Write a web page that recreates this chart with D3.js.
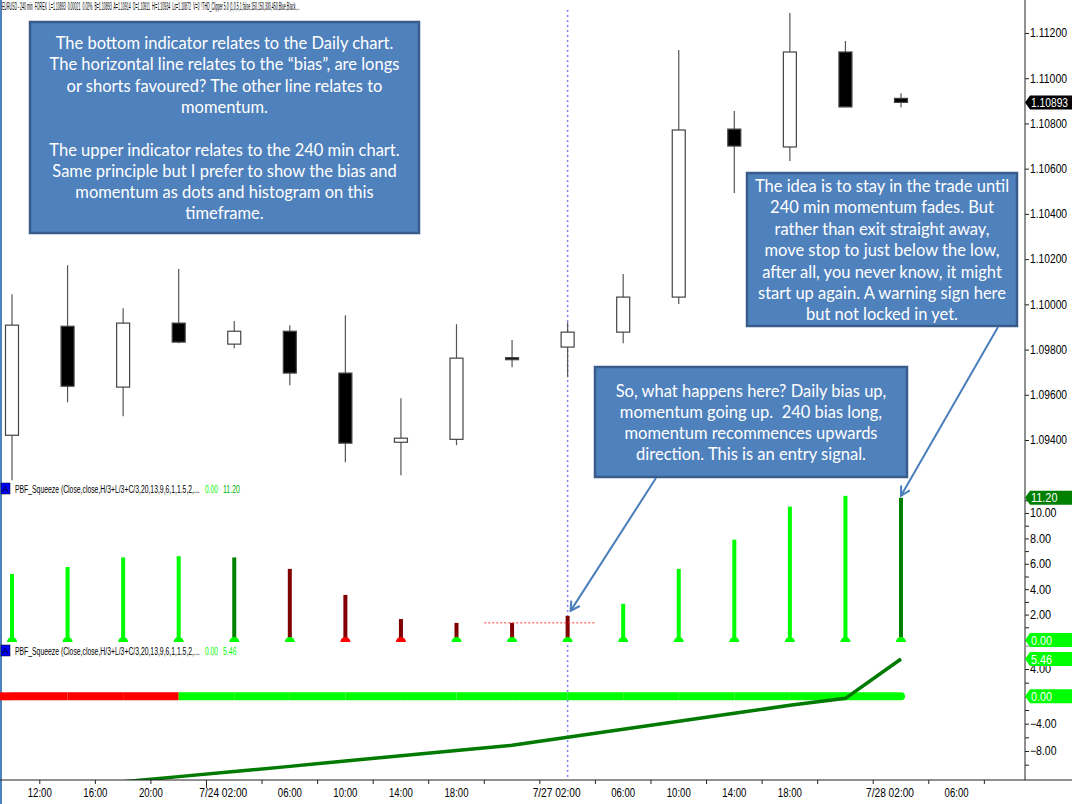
<!DOCTYPE html>
<html>
<head>
<meta charset="utf-8">
<script src="https://cdn.jsdelivr.net/npm/d3@7"></script>
<style>
  body { margin: 0; background: #fff; }
  svg { display: block; }
  .ax text { font-family: "Liberation Sans Narrow", "Arial Narrow", "Liberation Sans", sans-serif; font-size: 12px; fill: #000; }
  .ax line { stroke: #222; }
  .hdr { font-family: "Liberation Sans Narrow", "Arial Narrow", "Liberation Sans", sans-serif; white-space: pre; }
  .note { font-family: Lato, "Open Sans", sans-serif; fill: #fff; white-space: pre; }
</style>
</head>
<body>
<svg id="chart" width="1072" height="804"></svg>
<script>
// 240 min EURUSD bars
const opens  = [1.09421, 1.09903, 1.09634, 1.09917, 1.09824, 1.09881, 1.09696, 1.09390, 1.09403, 1.09764, 1.09811, 1.09877, 1.10032, 1.10775, 1.10696, 1.11116, 1.10911];
const highs  = [1.10045, 1.10173, 1.09983, 1.10156, 1.09926, 1.09908, 1.09952, 1.09585, 1.09912, 1.09842, 1.09921, 1.10134, 1.11125, 1.10855, 1.11289, 1.11165, 1.10934];
const lows   = [1.09222, 1.09567, 1.09505, 1.09828, 1.09806, 1.09642, 1.09302, 1.09244, 1.09377, 1.09722, 1.09678, 1.09828, 1.10001, 1.10492, 1.10634, 1.10873, 1.10872];
const closes = [1.09908, 1.09638, 1.09917, 1.09833, 1.09881, 1.09696, 1.09386, 1.09408, 1.09762, 1.09760, 1.09877, 1.10032, 1.10771, 1.10700, 1.11116, 1.10873, 1.10893];

// upper indicator (240 min squeeze)
const histValues = [5.2, 5.75, 6.5, 6.6, 6.5, 5.6, 3.55, 1.65, 1.35, 1.35, 1.9, 2.85, 5.6, 7.9, 10.5, 11.35, 11.2];
const histState  = ["up", "up", "up", "up", "fade", "down", "down", "down", "down", "down", "down", "up", "up", "up", "up", "up", "fade"];
const dotState   = ["long", "long", "long", "long", "long", "long", "short", "short", "long", "long", "long", "long", "long", "long", "long", "long", "long"];

// lower indicator (daily squeeze)
const dailyBias     = ["short", "short", "short", "short", "long", "long", "long", "long", "long", "long", "long", "long", "long", "long", "long", "long", "long"];
const dailyMomentum = [-14.0, -13.25, -12.5, -11.75, -11.0, -10.25, -9.45, -8.7, -7.93, -7.17, -6.0, -4.83, -3.66, -2.49, -1.32, -0.29, 5.46];

// time axis (positions in bar units)
const timeLabels = ["12:00", "16:00", "20:00", "7/24 02:00", "06:00", "10:00", "14:00", "18:00", "7/27 02:00", "06:00", "10:00", "14:00", "18:00", "7/28 02:00", "06:00"];
const timeLabelAt = [0.5, 1.5, 2.5, 4, 5, 6, 7, 8, 10, 11, 12, 13, 14, 16, 17];

const priceTicks = d3.range(1.094, 1.1125, 0.002);
const histTicks = [0, 2, 4, 6, 8, 10];
const histMinor = [1, 3, 5, 7, 9, 11];
const dailyTicks = [-8, -4, 0, 4];
const dailyMinor = [-10, -6, -2, 2];

const headerText = "EURUSD - 240 min  FOREX  L=1.10893  0.00021  0.02%  B=1.10893  A=1.10914  O=1.10911  Hi=1.10934  Lo=1.10872  V=0  !THD_Clipper 5.0 (1,0,5,1,false,150,150,300,450,Blue,Black,...";
const indHeader = "PBF_Squeeze (Close,close,H/3+L/3+C/3,20,13,9,6,1,1.5,2,...";

const note1 = ["The bottom indicator relates to the Daily chart.",
  "The horizontal line relates to the \u201cbias\u201d, are longs",
  "or shorts favoured? The other line relates to",
  "momentum.",
  "",
  "The upper indicator relates to the 240 min chart.",
  "Same principle but I prefer to show the bias and",
  "momentum as dots and histogram on this",
  "timeframe."];
const note2 = ["The idea is to stay in the trade until",
  "240 min momentum fades. But",
  "rather than exit straight away,",
  "move stop to just below the low,",
  "after all, you never know, it might",
  "start up again. A warning sign here",
  "but not locked in yet."];
const note3 = ["So, what happens here? Daily bias up,",
  "momentum going up.  240 bias long,",
  "momentum recommences upwards",
  "direction. This is an entry signal."];

const axisX = 1025, baseY = 780;
const svg = d3.select("#chart");

const x = d3.scaleLinear().domain([0, 16]).range([12, 901]);
const yP = d3.scaleLinear().domain([1.094, 1.112]).range([440, 33]);
const yH = d3.scaleLinear().domain([0, 10]).range([640, 513]);
const yD = d3.scaleLinear().domain([-8, 4]).range([751, 669]);

// squeeze text horizontally to the narrow width the platform font uses
function condense(sel, width) {
  sel.each(function() {
    const node = this;
    const w = node.getComputedTextLength();
    const target = typeof width === "function" ? width(node.textContent) : width;
    if (!w || !target) return;
    const tx = +node.getAttribute("x") || 0;
    const ty = +node.getAttribute("y") || 0;
    d3.select(node).attr("x", 0).attr("y", 0)
      .attr("transform", `translate(${tx},${ty}) scale(${target / w},1)`);
  });
}
const perChar = k => s => s.length * k;

const defs = svg.append("defs");
defs.append("clipPath").attr("id", "cp").append("rect").attr("x", 0).attr("y", 10).attr("width", axisX).attr("height", 473);
defs.append("clipPath").attr("id", "ch").append("rect").attr("x", 0).attr("y", 483).attr("width", axisX).attr("height", 163);
defs.append("clipPath").attr("id", "cd").append("rect").attr("x", 0).attr("y", 647).attr("width", axisX).attr("height", baseY - 647);

// left slide edge
svg.append("line").attr("x1", 1).attr("x2", 1).attr("y1", 0).attr("y2", 804)
  .attr("stroke", "#4f81bd").attr("stroke-width", 2);

// cursor line at 7/27 02:00
svg.append("line")
  .attr("x1", x(10)).attr("x2", x(10)).attr("y1", 10).attr("y2", baseY)
  .attr("stroke", "#8080ff").attr("stroke-width", 1.5).attr("stroke-dasharray", "2,3");

//Candles
const candles = d3.range(opens.length);
const cg = svg.append("g").attr("clip-path", "url(#cp)");
cg.selectAll(".wick").data(candles).enter().append("line")
  .attr("x1", i => x(i)).attr("x2", i => x(i))
  .attr("y1", i => yP(highs[i])).attr("y2", i => yP(lows[i]))
  .attr("stroke", "#555").attr("stroke-width", 1.2);
cg.selectAll(".body").data(candles).enter().append("rect")
  .attr("x", i => x(i) - 6.5).attr("width", 13)
  .attr("y", i => yP(Math.max(opens[i], closes[i])))
  .attr("height", i => Math.max(2, yP(Math.min(opens[i], closes[i])) - yP(Math.max(opens[i], closes[i]))))
  .attr("fill", i => closes[i] > opens[i] ? "#fff" : "#000")
  .attr("stroke", "#444").attr("stroke-width", 1.2);

//Upper indicator
const histColor = {up: "#00ff00", fade: "#008000", down: "#800000"};
const dotColor = {long: "#00ff00", short: "#ff0000"};
const hg = svg.append("g").attr("clip-path", "url(#ch)");
hg.selectAll(".bar").data(histValues).enter().append("rect")
  .attr("x", (d, i) => x(i) - 2).attr("width", 4)
  .attr("y", d => yH(d)).attr("height", d => yH(0) - yH(d))
  .attr("fill", (d, i) => histColor[histState[i]]);
hg.selectAll(".dot").data(dotState).enter().append("path")
  .attr("d", (d, i) => `M${x(i) - 5},${yH(0) + 2} A5,5 0 0 1 ${x(i) + 5},${yH(0) + 2} Z`)
  .attr("fill", d => dotColor[d]);
// dotted level at the entry bar
hg.append("line")
  .attr("x1", x(8.5)).attr("x2", x(10.5))
  .attr("y1", yH(histValues[9])).attr("y2", yH(histValues[9]))
  .attr("stroke", "#ff3030").attr("stroke-dasharray", "2,2");

//Lower indicator
const dg = svg.append("g").attr("clip-path", "url(#cd)");
dg.selectAll(".bias").data(dailyBias).enter().append("line")
  .attr("x1", (d, i) => i === 0 ? 0 : x(i - 1)).attr("x2", (d, i) => x(i))
  .attr("y1", yD(0)).attr("y2", yD(0))
  .attr("stroke", d => d === "long" ? "#00ff00" : "#ff0000")
  .attr("stroke-width", 8)
  .attr("stroke-linecap", (d, i) => i === dailyBias.length - 1 ? "round" : "butt");
dg.append("path")
  .datum(dailyMomentum)
  .attr("fill", "none").attr("stroke", "#007a00").attr("stroke-width", 3.5)
  .attr("d", d3.line().x((d, i) => x(i)).y(d => yD(d)));

//Axes
svg.append("line").attr("x1", axisX).attr("x2", axisX).attr("y1", 0).attr("y2", baseY).attr("stroke", "#222");
svg.append("line").attr("x1", 0).attr("x2", 1072).attr("y1", baseY).attr("y2", baseY).attr("stroke", "#222");
svg.append("line").attr("x1", axisX).attr("x2", 1072).attr("y1", 646).attr("y2", 646).attr("stroke", "#888");

function rightAxis(scale, major, minor, fmt) {
  const g = svg.append("g").attr("class", "ax").attr("transform", `translate(${axisX},0)`);
  g.call(d3.axisRight(scale).tickValues(major).tickFormat(d3.format(fmt)).tickSize(4).tickPadding(1));
  if (minor.length) {
    const m = svg.append("g").attr("class", "ax").attr("transform", `translate(${axisX},0)`);
    m.call(d3.axisRight(scale).tickValues(minor).tickFormat("").tickSize(4));
    m.select(".domain").remove();
  }
  g.select(".domain").remove();
  condense(g.selectAll("text"), perChar(5.3));
}
rightAxis(yP, priceTicks, [], ".5f");
rightAxis(yH, histTicks, histMinor, ".2f");
rightAxis(yD, dailyTicks, dailyMinor, ".2f");

// time axis
const xa = svg.append("g").attr("class", "ax");
xa.selectAll(".tk").data(d3.range(-0.5, 18, 1)).enter().append("line")
  .attr("x1", d => x(d)).attr("x2", d => x(d))
  .attr("y1", baseY).attr("y2", d => d === 3.5 ? baseY + 8 : baseY + 4);
const tl = xa.selectAll(".tl").data(timeLabels).enter().append("text")
  .attr("x", (d, i) => d.includes(" ") ? x(timeLabelAt[i]) + 13 : x(timeLabelAt[i]))
  .attr("y", 797)
  .attr("text-anchor", d => d.includes(" ") ? "end" : "middle")
  .text(d => d);
condense(tl, perChar(4.8));

// value badges
function badge(y, label, fill) {
  const g = svg.append("g");
  g.append("path")
    .attr("d", `M${axisX},${y} L${axisX + 5},${y - 7} L1072,${y - 7} L1072,${y + 7} L${axisX + 5},${y + 7} Z`)
    .attr("fill", fill);
  const t = g.append("text").attr("class", "hdr").attr("x", axisX + 6).attr("y", y + 4.5)
    .attr("font-size", 12).attr("fill", "#fff").text(label);
  condense(t, perChar(5.3));
}
badge(yP(closes[16]), d3.format(".5f")(closes[16]), "#000");
badge(yH(histValues[16]), d3.format(".2f")(histValues[16]), "#008000");
badge(yH(0), "0.00", "#00ff00");
badge(yD(dailyMomentum[16]), d3.format(".2f")(dailyMomentum[16]), "#00ff00");
badge(yD(0), "0.00", "#00ff00");

// headers
const headerNode = svg.append("text").attr("class", "hdr").attr("x", 2).attr("y", 10).attr("font-size", 11).text(headerText);
condense(headerNode, 298);

function indicatorHeader(y, v1, v2, c2) {
  svg.append("rect").attr("x", 1).attr("y", y - 10).attr("width", 9).attr("height", 11)
    .attr("fill", "#0000ff").attr("stroke", "#000").attr("stroke-width", 0.5);
  svg.append("text").attr("class", "hdr").attr("x", 5.5).attr("y", y - 1).attr("text-anchor", "middle")
    .attr("font-size", 9).attr("fill", "#000").text("A");
  condense(svg.append("text").attr("class", "hdr").attr("x", 15).attr("y", y).attr("font-size", 11).text(indHeader), 185);
  condense(svg.append("text").attr("class", "hdr").attr("x", 205).attr("y", y).attr("font-size", 11)
    .attr("fill", "#00ff00").text(v1), 13);
  condense(svg.append("text").attr("class", "hdr").attr("x", 223).attr("y", y).attr("font-size", 11)
    .attr("fill", c2).text(v2), v2.length * 3.4);
}
indicatorHeader(493, "0.00", d3.format(".2f")(histValues[16]), "#00b000");
indicatorHeader(655, "0.00", d3.format(".2f")(dailyMomentum[16]), "#00ff00");

//Callouts
const probe = svg.append("text").attr("class", "note").attr("font-size", 16).text(note1[0]);
const noteSize = 16 * 338 / probe.node().getComputedTextLength();
probe.remove();

function callout(bx, by, bw, bh, lines, cy0, lh) {
  const g = svg.append("g");
  g.append("rect").attr("x", bx).attr("y", by).attr("width", bw).attr("height", bh)
    .attr("fill", "#4f81bd").attr("stroke", "#385d8a").attr("stroke-width", 2.5);
  g.selectAll("text").data(lines).enter().append("text")
    .attr("class", "note")
    .attr("x", bx + bw / 2).attr("y", (d, i) => cy0 + i * lh)
    .attr("text-anchor", "middle").attr("dominant-baseline", "central")
    .attr("font-size", noteSize)
    .text(d => d);
}
callout(30, 22, 389, 211, note1, 43, 21.3);
callout(747, 173, 270, 153, note2, 186, 21.4);
callout(595, 367, 312, 110, note3, 391, 21);

//Arrows
defs.append("marker").attr("id", "arr")
  .attr("viewBox", "0 0 12 12").attr("refX", 10).attr("refY", 6)
  .attr("markerWidth", 12).attr("markerHeight", 12)
  .attr("markerUnits", "userSpaceOnUse").attr("orient", "auto")
  .append("path").attr("d", "M1,1 L10,6 L1,11").attr("fill", "none")
  .attr("stroke", "#4a7ebb").attr("stroke-width", 2);

const arrows = [
  {x1: 656, y1: 478, x2: x(10) + 3, y2: yH(histValues[10]) - 5},
  {x1: 998, y1: 327, x2: x(16), y2: yH(histValues[16]) - 2}
];
svg.selectAll(".arrow").data(arrows).enter().append("line")
  .attr("x1", d => d.x1).attr("y1", d => d.y1).attr("x2", d => d.x2).attr("y2", d => d.y2)
  .attr("stroke", "#4a7ebb").attr("stroke-width", 2)
  .attr("marker-end", "url(#arr)");
</script>
</body>
</html>
